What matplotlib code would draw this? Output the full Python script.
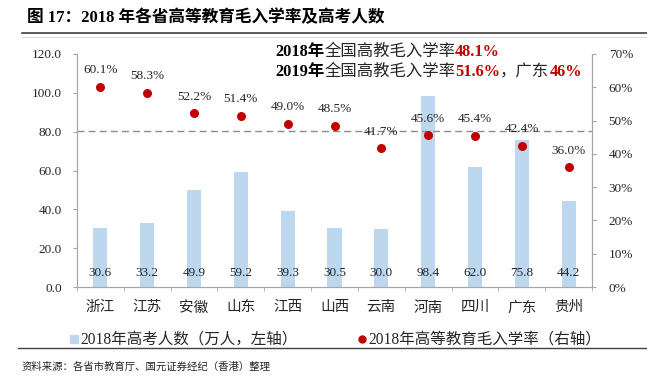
import matplotlib.pyplot as plt
from matplotlib.lines import Line2D
import numpy as np

plt.rcParams['font.family'] = ['Liberation Serif', 'Noto Sans CJK SC']

provinces = ["浙江", "江苏", "安徽", "山东", "江西", "山西", "云南", "河南", "四川", "广东", "贵州"]
exam_takers = [30.6, 33.2, 49.9, 59.2, 39.3, 30.5, 30.0, 98.4, 62.0, 75.8, 44.2]
enroll_rate = [0.601, 0.583, 0.522, 0.514, 0.490, 0.485, 0.417, 0.456, 0.454, 0.424, 0.360]
# dashed reference line, as drawn in the source picture (national rate, approx.)
national_line = 0.47

bar_color = "#BDD7EE"
dot_color = "#C00000"
axis_gray = "#A6A6A6"
text_color = "#262626"

fig = plt.figure(figsize=(6.47, 3.79), dpi=100)
ax = fig.add_axes([77 / 647, 92 / 379, 515 / 647, 233 / 379])
ax2 = ax.twinx()

x = np.arange(len(provinces))
ax.bar(x, exam_takers, width=0.3, color=bar_color, zorder=1)
for xi, v in zip(x, exam_takers):
    ax.text(xi, 7.3, f"{v:.1f}", ha="center", va="center", fontsize=9.5, color=text_color)

ax2.scatter(x, enroll_rate, s=30, color=dot_color, zorder=3)
for xi, r in zip(x, enroll_rate):
    ax2.annotate(f"{r * 100:.1f}%", (xi, r), xytext=(0, 12), textcoords="offset points",
                 ha="center", va="center", fontsize=9.5, color=text_color)
ax2.axhline(national_line, color="#8C8C8C", linestyle=(0, (5, 3)), linewidth=1)

ax.set_xlim(-0.5, len(provinces) - 0.5)
ax.set_ylim(0, 120)
ax.set_yticks(np.arange(0, 121, 20))
ax.set_yticklabels([f"{v:.1f}" for v in np.arange(0, 121, 20)])
ax2.set_ylim(0, 0.7)
ax2.set_yticks(np.arange(0, 0.71, 0.1))
ax2.set_yticklabels([f"{int(round(v * 100))}%" for v in np.arange(0, 0.71, 0.1)])

ax.set_xticks(x)
ax.set_xticklabels(provinces)
ax.set_xticks(np.arange(-0.5, len(provinces), 1), minor=True)
ax.tick_params(axis="x", which="major", length=0, pad=10, labelsize=10.5, labelcolor=text_color)
ax.tick_params(axis="x", which="minor", length=3, color=axis_gray, direction="out")
ax.tick_params(axis="y", length=3, color=axis_gray, labelsize=9.5, pad=8, labelcolor=text_color)
ax2.tick_params(axis="y", length=3, color=axis_gray, labelsize=9.5, pad=9, labelcolor=text_color)

for a in (ax, ax2):
    a.spines["top"].set_visible(False)
    for s in ("left", "right", "bottom"):
        a.spines[s].set_color(axis_gray)
        a.spines[s].set_linewidth(0.8)


# annotation text with mixed styles, chained piece by piece
def chain(prev, s, **kw):
    return ax.annotate(s, xy=(1, 0.5), xycoords=prev, va="center", ha="left",
                       annotation_clip=False, fontsize=11.8, **kw)


t1 = fig.text(275 / 647, 1 - 52 / 379, "2018年", fontsize=11.8, fontweight="bold", va="center")
t2 = chain(t1, "全国高教毛入学率", color=text_color)
chain(t2, "48.1%", fontweight="bold", color=dot_color)

u1 = fig.text(275 / 647, 1 - 72 / 379, "2019年", fontsize=11.8, fontweight="bold", va="center")
u2 = chain(u1, "全国高教毛入学率", color=text_color)
u3 = chain(u2, "51.6%", fontweight="bold", color=dot_color)
u4 = chain(u3, "，广东", color=text_color)
chain(u4, "46%", fontweight="bold", color=dot_color)

# legend
handles = [
    Line2D([], [], marker="s", linestyle="none", color=bar_color, markersize=6),
    Line2D([], [], marker="o", linestyle="none", color=dot_color, markersize=5),
]
fig.legend(handles, ["2018年高考人数（万人，左轴）", "2018年高等教育毛入学率（右轴）"],
           loc="center", bbox_to_anchor=(335 / 647, 1 - 340 / 379), ncol=2, frameon=False,
           fontsize=11.2, handletextpad=0.05, columnspacing=3.8, handlelength=0.7,
           labelcolor=text_color)

# title and decoration
fig.text(27 / 647, 1 - 18 / 379, "图 17：2018 年各省高等教育毛入学率及高考人数",
         fontsize=12, fontweight="bold", va="center")
fig.add_artist(Line2D([22 / 647, 1], [1 - 33 / 379] * 2, color="#404040", linewidth=1.2))
fig.add_artist(Line2D([22 / 647, 1], [1 - 37 / 379] * 2, color="#D9D9D9", linewidth=0.8))
fig.add_artist(Line2D([18 / 647, 1], [1 - 348 / 379] * 2, color="#404040", linewidth=1.0))
fig.text(22 / 647, 1 - 367 / 379, "资料来源：各省市教育厅、国元证券经纪（香港）整理",
         fontsize=7.5, va="center", color=text_color)

fig.savefig("out.png", dpi=100)
